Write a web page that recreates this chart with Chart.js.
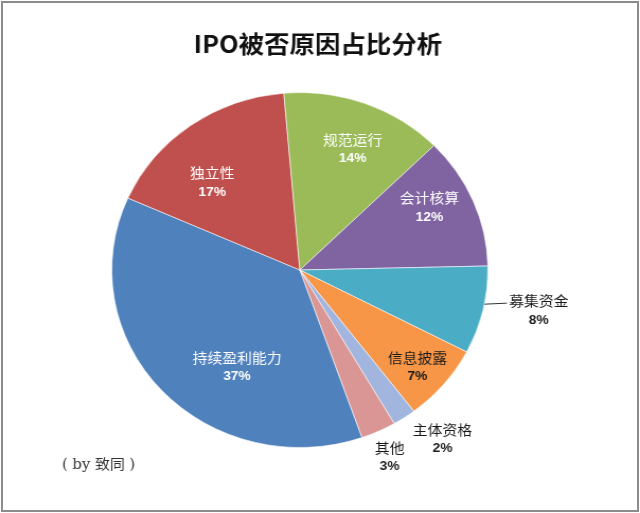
<!DOCTYPE html>
<html>
<head>
<meta charset="utf-8">
<script src="https://cdn.jsdelivr.net/npm/chart.js@4.4.1/dist/chart.umd.min.js"></script>
<style>
    body { margin: 0; background: #fff; }
    #wrap { position: relative; width: 640px; height: 513px; overflow: hidden; background: #fff; }
    #pieChart { position: absolute; left: 0; top: 0; transform: scaleX(1.0596); transform-origin: 0 0; }
    #frame { position: absolute; left: 1px; top: 1px; width: 634px; height: 507px; border: 2px solid #8c8c8c; pointer-events: none; }
</style>
</head>
<body>
<div id="wrap">
    <canvas id="pieChart" width="604" height="513"></canvas>
    <div id="frame"></div>
</div>
<script>
// --- DATA (Excel series order, drawn clockwise) ---
const categories = ["持续盈利能力", "独立性", "规范运行", "会计核算", "募集资金", "信息披露", "主体资格", "其他"];
const shares = [37, 17, 14, 12, 8, 7, 2, 3];
const sliceColors = ["#4F81BD", "#C0504D", "#9BBB59", "#8064A2", "#4BACC6", "#F79646", "#A2B5DF", "#D99694"];
const chartTitle = "IPO被否原因占比分析";
const footNote = "( by 致同 )";

// label placement: radius factor, angle shift (deg) from slice middle, text colour
const labelPlacement = [
    { f: 0.64, shift: -15.8, color: "#ffffff" },
    { f: 0.68, shift: -7.8, color: "#ffffff" },
    { f: 0.74, shift: 2.0, color: "#ffffff" },
    { f: 0.775, shift: -4.3, color: "#ffffff" },
    { f: 1.29, shift: -3.0, color: "#1a1a1a", leader: true },
    { f: 0.83, shift: 1.0, color: "#1a1a1a" },
    { f: 1.215, shift: -4.9, color: "#1a1a1a" },
    { f: 1.155, shift: 0.3, color: "#1a1a1a" }
];

const cjk = "'Noto Sans CJK SC', 'Noto Sans', sans-serif";

// --- custom plugin for title, slice labels and the footnote ---
const pieLabels = {
    id: 'pieLabels',
    afterDraw(chart) {
        const ctx = chart.ctx;
        const meta = chart.getDatasetMeta(0);
        ctx.save();
        ctx.textAlign = 'center';
        ctx.textBaseline = 'middle';

        // title
        ctx.fillStyle = '#111111';
        ctx.font = "bold 24px " + cjk;
        ctx.fillText(chartTitle, 300, 44);

        meta.data.forEach((arc, i) => {
            const p = labelPlacement[i];
            const mid = (arc.startAngle + arc.endAngle) / 2 + p.shift * Math.PI / 180;
            const r = arc.outerRadius * p.f;
            const x = arc.x + Math.cos(mid) * r;
            const y = arc.y + Math.sin(mid) * r;

            ctx.fillStyle = p.color;
            ctx.font = "14px " + cjk;
            ctx.fillText(categories[i], x, y - 9);
            ctx.font = "bold 13px 'Liberation Sans', 'DejaVu Sans', sans-serif";
            ctx.fillText(shares[i] + '%', x, y + 10);

            if (p.leader) {
                const nameW = ctx.measureText('').width;
                ctx.font = "14px " + cjk;
                const w = ctx.measureText(categories[i]).width;
                const a = (arc.startAngle + arc.endAngle) / 2 - 2 * Math.PI / 180;
                ctx.strokeStyle = '#333333';
                ctx.lineWidth = 1;
                ctx.beginPath();
                ctx.moveTo(arc.x + Math.cos(a) * arc.outerRadius, arc.y + Math.sin(a) * arc.outerRadius);
                ctx.lineTo(x - w / 2 - 2, y - 7);
                ctx.stroke();
            }
        });

        // footnote
        ctx.fillStyle = '#333333';
        ctx.font = "14px 'DejaVu Serif', 'Noto Sans CJK SC', serif";
        ctx.fillText(footNote, 93, 465);
        ctx.restore();
    }
};

// --- CHART ---
const ctxPie = document.getElementById('pieChart').getContext('2d');
const pieChart = new Chart(ctxPie, {
    type: 'pie',
    data: {
        labels: categories,
        datasets: [{
            data: shares,
            backgroundColor: sliceColors,
            borderColor: 'rgba(255,255,255,0.55)',
            borderWidth: 1
        }]
    },
    options: {
        responsive: false,
        animation: false,
        devicePixelRatio: 1,
        rotation: 160.7,
        layout: { padding: { top: 92, bottom: 65, left: 105, right: 143 } },
        plugins: {
            legend: { display: false },
            tooltip: { enabled: false },
            title: { display: false }
        }
    },
    plugins: [pieLabels]
});
</script>
</body>
</html>
